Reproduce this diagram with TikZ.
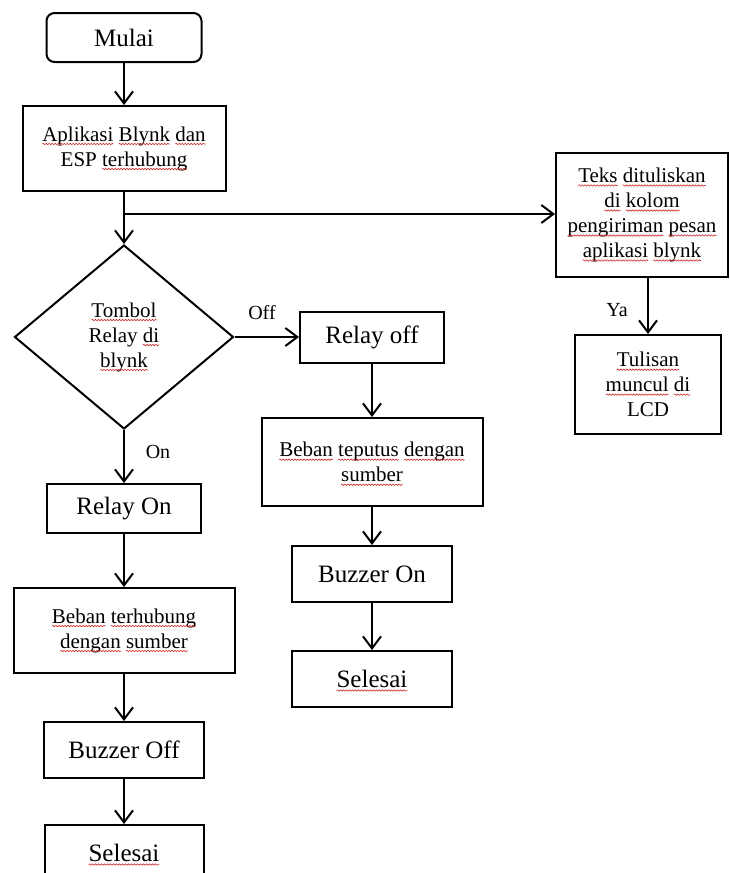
\documentclass[tikz,border=0pt]{standalone}
\usepackage{fontspec}
\setmainfont{Liberation Serif}
\usetikzlibrary{shapes.geometric,arrows.meta,decorations.pathmorphing}
\definecolor{spell}{RGB}{205,40,40}
\tikzset{
  sqline/.style={overlay,draw=spell,line width=0.6pt,decorate,decoration={snake,amplitude=0.7pt,segment length=3pt}},
}
\newcommand\sq[1]{\tikz[baseline=(sqw.base)]{\node[inner sep=0pt,outer sep=0pt,draw=none,fill=none,rectangle,minimum width=0pt,minimum height=0pt,text width=,align=left](sqw){#1};\draw[sqline] ([yshift=-3pt]sqw.base west)--([yshift=-3pt]sqw.base east);}}
\begin{document}
\begin{tikzpicture}[x=1pt,y=-1pt,
  line width=2pt,
  ln/.style={line width=2pt},
  box/.style={draw,ln,rectangle,inner sep=0pt,align=center,font=\fontsize{21}{25}\selectfont},
  bigbox/.style={box,font=\fontsize{25}{29}\selectfont},
  decision/.style={draw,ln,diamond,inner sep=0pt,aspect=1.19,align=center,font=\fontsize{21}{25}\selectfont},
  lbl/.style={inner sep=0pt,font=\fontsize{20}{24}\selectfont},
  arr/.style={ln,-{Straight Barb[length=12pt,width=18pt]}},
]
\useasboundingbox (0,0) rectangle (730,873);
\clip (0,0) rectangle (730,873);

\node[bigbox,rounded corners=8pt,minimum width=155pt,minimum height=49pt] (mulai) at (124,37.5) {Mulai};
\node[box,minimum width=203pt,minimum height=85pt] (apl) at (124,148.5) {\sq{Aplikasi} \sq{Blynk} \sq{dan}\\ESP \sq{terhubung}};
\coordinate (branch) at (124,214);
\node[decision,minimum width=219pt,minimum height=184pt] (dia) at (124,337) {\sq{Tombol}\\Relay \sq{di}\\\sq{blynk}};
\node[bigbox,minimum width=144pt,minimum height=51pt] (roff) at (372,337.5) {Relay off};
\node[box,minimum width=221pt,minimum height=88pt] (bput) at (372,462) {\sq{Beban} \sq{teputus} \sq{dengan}\\\sq{sumber}};
\node[bigbox,minimum width=160pt,minimum height=56pt] (bzon) at (372,574) {Buzzer On};
\node[bigbox,minimum width=160pt,minimum height=56pt] (sel2) at (372,679) {\sq{Selesai}};
\node[box,minimum width=172pt,minimum height=124pt] (teks) at (642,215) {\sq{Teks} \sq{dituliskan}\\\sq{di} \sq{kolom}\\\sq{pengiriman} \sq{pesan}\\\sq{aplikasi} \sq{blynk}};
\node[box,minimum width=146pt,minimum height=99pt] (tul) at (648,384.5) {\sq{Tulisan}\\\sq{muncul} \sq{di}\\LCD};
\node[bigbox,minimum width=154pt,minimum height=49pt] (ron) at (124,508.5) {Relay On};
\node[box,minimum width=221pt,minimum height=85pt] (bhub) at (124,630.5) {\sq{Beban} \sq{terhubung}\\\sq{dengan} \sq{sumber}};
\node[bigbox,minimum width=160pt,minimum height=56pt] (bzoff) at (124,750) {Buzzer Off};
\node[bigbox,minimum width=159pt,minimum height=56pt] (sel1) at (124,853) {\sq{Selesai}};

\node[lbl] (loff) at (262,313) {Off};
\node[lbl] (lon) at (158,452) {On};
\node[lbl] (lya) at (617,310) {Ya};

\draw[arr] (mulai.south) -- (apl.north);
\draw[ln] (apl.south) -- (branch);
\draw[arr] (branch) -- (dia.north);
\draw[arr] (branch) -- (branch -| teks.west);
\draw[arr] (dia.east) -- (dia.east -| roff.west);
\draw[arr] (roff.south) -- (roff.south |- bput.north);
\draw[arr] (bput.south) -- (bput.south |- bzon.north);
\draw[arr] (bzon.south) -- (bzon.south |- sel2.north);
\draw[arr] (tul.north |- teks.south) -- (tul.north);
\draw[arr] (dia.south) -- (dia.south |- ron.north);
\draw[arr] (ron.south) -- (ron.south |- bhub.north);
\draw[arr] (bhub.south) -- (bhub.south |- bzoff.north);
\draw[arr] (bzoff.south) -- (bzoff.south |- sel1.north);
\end{tikzpicture}
\end{document}
